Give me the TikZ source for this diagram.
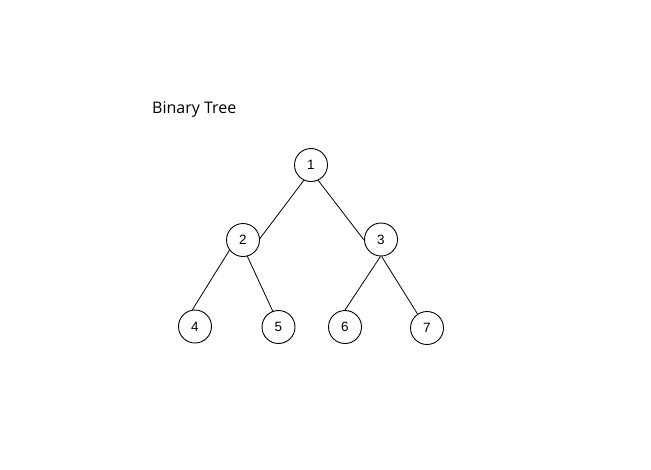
\documentclass[tikz,border=0pt]{standalone}
\usepackage{fontspec}
\setmainfont{Liberation Sans}
\newfontfamily\titlefont{Open Sans}
\usetikzlibrary{positioning}

\begin{document}
\begin{tikzpicture}[x=1pt, y=-1pt]
    % 画布大小
    \useasboundingbox (0,0) rectangle (651,469);

    \tikzset{
      treenode/.style={draw, circle, line width=0.9pt, minimum size=33pt,
                       inner sep=0pt, font=\fontsize{13.5}{15}\selectfont},
      treeedge/.style={draw, line width=0.8pt}
    }

    % --- 标题 ---
    \node[anchor=base west, inner sep=0pt, font=\titlefont\fontsize{16}{19}\selectfont]
      (title) at (152,113) {Binary Tree};

    % --- 结点 ---
    \node[treenode] (n1) at (311,165) {1};
    \node[treenode] (n2) at (243,240) {2};
    \node[treenode] (n3) at (381,239.5) {3};
    \node[treenode] (n4) at (195,326.5) {4};
    \node[treenode] (n5) at (278.5,327) {5};
    \node[treenode] (n6) at (345,327) {6};
    \node[treenode] (n7) at (427,328) {7};

    % --- 连线 ---
    \draw[treeedge] (n1.245) -- (n2.5);
    \draw[treeedge] (n1.295) -- (n3.182);
    \draw[treeedge] (n2.217) -- (n4.99);
    \draw[treeedge] (n2.285) -- (n5.110);
    \draw[treeedge] (n3.268) -- (n6.90);
    \draw[treeedge] (n3.272) -- (n7.124);

  \end{tikzpicture}
\end{document}
